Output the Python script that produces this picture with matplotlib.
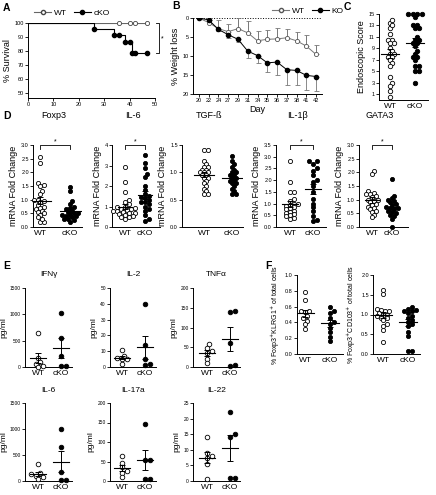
import numpy as np
import matplotlib.pyplot as plt
from matplotlib.lines import Line2D
from matplotlib.ticker import FormatStrFormatter

plt.rcParams['font.family'] = ['Liberation Sans', 'DejaVu Sans']

# ---- A: survival ----
surv_wt_marks = [36, 40, 42, 47]
surv_ko_t = [0, 26, 34, 38, 41, 47]
surv_ko_s = [100, 95.5, 91.3, 86.5, 78.3, 78.3]
surv_ko_mark_t = [26, 34, 36, 38, 40, 41, 42, 47]
surv_ko_mark_s = [95.5, 91.3, 91.3, 86.5, 86.5, 78.3, 78.3, 78.3]

# ---- B: weight loss ----
days = ['20', '22', '24', '27', '29', '31', '34', '35', '36', '37', '38', '41', '42']
wl_wt = [0, 1.2, 2.8, 3.6, 2.8, 3.9, 6.0, 5.6, 5.5, 5.2, 6.0, 7.4, 9.6]
wl_wt_err = [0, 0, 2.3, 1.9, 2.8, 3.0, 2.6, 2.4, 2.8, 2.2, 2.3, 3.0, 2.5]
wl_ko = [0, 0.5, 3.0, 4.4, 5.6, 8.7, 9.9, 11.8, 11.6, 13.6, 13.8, 15.1, 15.4]
wl_ko_err = [0, 0, 0.5, 0.9, 0.6, 1.8, 2.0, 2.5, 3.3, 4.0, 3.8, 3.8, 3.8]

# ---- C: endoscopic score ----
endo_wt = [13.5, 14, 12.5, 13, 11.5, 10.5, 10.5, 10, 10, 9, 8.5, 8, 8, 7.5, 7.5, 7,
           6.5, 6, 4, 3, 2.5, 1.5, 0.5]
endo_ko = [15, 15, 15, 15, 14.5, 13, 13, 12.5, 12.5, 11, 10.5, 10.5, 10, 10, 9.5,
           8.5, 8, 7.5, 7.5, 7, 6, 6, 5, 5, 3]

# ---- D: mRNA fold change ----
foxp3_wt = [2.55, 2.35, 1.6, 1.55, 1.5, 1.3, 1.2, 1.0, 1.0, 0.95, 0.9, 0.8, 0.75, 0.7,
            0.65, 0.6, 0.55, 0.5, 0.45, 0.35, 0.2, 0.2, 0.3]
foxp3_ko = [1.45, 1.3, 0.95, 0.85, 0.75, 0.7, 0.65, 0.6, 0.55, 0.5, 0.5, 0.45, 0.45,
            0.4, 0.4, 0.35, 0.3, 0.3, 0.25, 0.2]
il6m_wt = [2.95, 2.2, 1.7, 1.3, 1.2, 1.1, 1.0, 1.0, 0.95, 0.9, 0.9, 0.85, 0.8, 0.8,
           0.75, 0.7, 0.7, 0.65, 0.6, 0.55, 0.5, 0.5, 0.4]
il6m_ko = [3.5, 3.1, 2.9, 2.6, 2.45, 2.0, 1.8, 1.6, 1.5, 1.45, 1.4, 1.3, 1.2, 1.2,
           1.1, 1.0, 0.9, 0.8, 0.6, 0.4, 0.3]
tgf_wt = [1.4, 1.4, 1.2, 1.15, 1.1, 1.1, 1.05, 1.05, 1.0, 1.0, 1.0, 0.95, 0.95, 0.9,
          0.9, 0.85, 0.8, 0.75, 0.7, 0.65, 0.6, 0.6]
tgf_ko = [1.3, 1.2, 1.15, 1.1, 1.05, 1.0, 1.0, 0.95, 0.95, 0.9, 0.9, 0.85, 0.85, 0.8,
          0.8, 0.75, 0.7, 0.65, 0.6, 0.6]
il1b_wt = [2.8, 1.9, 1.5, 1.5, 1.2, 1.1, 1.0, 1.0, 0.95, 0.9, 0.85, 0.8, 0.75, 0.7,
           0.65, 0.6, 0.55, 0.5, 0.45, 0.4, 0.35]
il1b_ko = [2.8, 2.8, 2.7, 2.5, 2.4, 2.2, 2.0, 1.9, 1.75, 1.5, 1.2, 1.0, 0.85, 0.7,
           0.45, 0.3, 0.25]
gata3_wt = [2.05, 1.95, 1.3, 1.25, 1.2, 1.2, 1.15, 1.1, 1.0, 1.0, 0.95, 0.9, 0.85,
            0.8, 0.75, 0.7, 0.65, 0.6, 0.55, 0.45, 0.35]
gata3_ko = [1.75, 1.15, 1.05, 1.0, 0.95, 0.9, 0.85, 0.8, 0.75, 0.7, 0.7, 0.65, 0.6,
            0.55, 0.5, 0.45, 0.4, 0.3, 0.0]

# ---- E: cytokines (pg/ml) ----
ifng_wt = [650, 180, 100, 60, 20, 0]
ifng_ko = [1030, 550, 200, 15, 15]
il2_wt = [11, 7, 6, 5, 5, 2]
il2_ko = [40, 14, 5, 2, 1]
tnfa_wt = [57, 48, 40, 35, 20, 10]
tnfa_ko = [142, 140, 61, 5, 3]
il6p_wt = [330, 150, 130, 100, 80, 30]
il6p_ko = [1000, 660, 170, 10, 10]
il17_wt = [63, 45, 35, 25, 20, 10]
il17_ko = [145, 55, 55, 5, 5]
il22_wt = [14, 9, 8, 7.5, 5.5, 0.5]
il22_ko = [22, 15, 14, 1, 1]

# ---- F: flow ----
klrg1_wt = [0.78, 0.68, 0.55, 0.55, 0.53, 0.48, 0.45, 0.42, 0.38, 0.32]
klrg1_ko = [0.59, 0.55, 0.52, 0.45, 0.40, 0.38, 0.33, 0.28, 0.22, 0.17]
cd103_wt = [1.62, 1.52, 1.15, 1.12, 1.1, 1.08, 1.05, 1.0, 1.0, 0.95, 0.92, 0.9, 0.85,
            0.75, 0.7, 0.6, 0.3]
cd103_ko = [1.2, 1.15, 1.12, 1.1, 1.08, 1.05, 0.95, 0.9, 0.85, 0.8, 0.75, 0.7, 0.55,
            0.45, 0.08, 0.08]

W, H = 436, 495
fig = plt.figure(figsize=(W / 100, H / 100), dpi=100)


def box(l, t, r, b):
    return fig.add_axes([l / W, 1 - b / H, (r - l) / W, (b - t) / H])


def style(ax, ts=4):
    for s in ['top', 'right']:
        ax.spines[s].set_visible(False)
    for s in ['left', 'bottom']:
        ax.spines[s].set_linewidth(0.7)
    ax.tick_params(labelsize=ts, width=0.6, length=2, pad=1)


def swarm(vals, sy, d, gap):
    placed = []
    offs = np.zeros(len(vals))
    cands = [0.0]
    for k in range(1, 40):
        cands += [k * d * 0.5, -k * d * 0.5]
    for i in np.argsort(vals):
        yp = vals[i] * sy
        for c in cands:
            if all((c - px) ** 2 + (yp - py) ** 2 >= (gap * d) ** 2 for px, py in placed):
                break
        placed.append((c, yp))
        offs[i] = c
    return offs


def dotplot(rect, xwt, xko, ylim, wt, ko, ms=3.0, ts=4, xs=6, gap=0.8):
    l, t, r, b = rect
    ax = box(l, t, r, b)
    style(ax, ts)
    unit = xko - xwt
    ax.set_xlim((l - xwt) / unit, (r - xwt) / unit)
    ax.set_ylim(*ylim)
    sy = (b - t) / (ylim[1] - ylim[0])
    d = ms * 100 / 72
    for i, (vals, filled) in enumerate([(wt, False), (ko, True)]):
        vals = np.asarray(vals, float)
        x = i + swarm(vals, sy, d, gap) / unit
        ax.plot(x, vals, 'o', ms=ms, mfc='k' if filled else 'white', mec='k',
                mew=0.6, ls='none', clip_on=False, zorder=3)
        m = vals.mean()
        se = vals.std(ddof=1) / np.sqrt(len(vals))
        ax.plot([i - 0.35, i + 0.35], [m, m], color='k', lw=0.8, zorder=4)
        ax.errorbar(i, m, yerr=se, color='k', lw=0.7, capsize=2.5, capthick=0.7, zorder=4)
    ax.set_xticks([0, 1])
    ax.set_xticklabels(['WT', 'cKO'], fontsize=xs)
    ax.tick_params(axis='x', length=0, pad=2)
    return ax


def bracket(ax, y, h):
    ax.plot([0, 0, 1, 1], [y - h, y, y, y - h], color='k', lw=0.6, clip_on=False)
    ax.text(0.5, y, '*', ha='center', va='bottom', fontsize=5)


def letter(x, y, s):
    fig.text(x / W, 1 - y / H, s, fontsize=7.5, fontweight='bold', va='center')


# ---------- A ----------
ax = box(28, 23, 155, 98)
style(ax)
ax.set_xlim(0, 50)
ax.set_ylim(46.5, 100)
ax.set_xticks(range(0, 51, 10))
ax.set_yticks(range(50, 101, 10))
ax.step([0, 47], [100, 100], where='post', color='#666', lw=0.8)
ax.plot(surv_wt_marks, [100] * len(surv_wt_marks), 'o', ms=3, mfc='white', mec='#444', mew=0.6, clip_on=False)
ax.step(surv_ko_t, surv_ko_s, where='post', color='k', lw=0.8)
ax.plot(surv_ko_mark_t, surv_ko_mark_s, 'o', ms=3, color='k', clip_on=False)
ax.set_ylabel('% Survival', fontsize=6.5, labelpad=2)
ax.plot([50.5, 51.5, 51.5, 50.5], [100, 100, 78.3, 78.3], color='k', lw=0.6, clip_on=False)
ax.text(52.3, 89, '*', fontsize=5, va='center')
h1 = Line2D([], [], color='#666', lw=0.8, marker='o', ms=3, mfc='white', mec='#444')
h2 = Line2D([], [], color='k', lw=0.8, marker='o', ms=3)
fig.legend([h1, h2], ['WT', 'cKO'], loc='center left', bbox_to_anchor=(30 / W, 1 - 13 / H),
           ncol=2, frameon=False, fontsize=6, handlelength=2, columnspacing=0.8,
           handletextpad=0.4, borderpad=0)

# ---------- B ----------
ax = box(193, 18, 322, 94)
style(ax)
x = np.arange(len(days))
ax.set_xlim(-0.6, 12.6)
ax.set_ylim(20, 0)
ax.set_yticks([0, 5, 10, 15, 20])
ax.set_xticks(x)
ax.set_xticklabels(days)
ax.axhline(0, color='k', ls=':', lw=0.7)
ax.errorbar(x, wl_wt, yerr=[wl_wt_err, np.zeros(len(x))], color='#777', lw=0.7,
            capsize=1.8, capthick=0.6, marker='o', ms=3, mfc='white', mec='#555', mew=0.6)
ax.errorbar(x, wl_ko, yerr=[np.zeros(len(x)), wl_ko_err], color='k', lw=0.7,
            ecolor='#777', elinewidth=0.6, capsize=1.8, capthick=0.6, marker='o', ms=3)
ax.set_xlabel('Day', fontsize=6.5, labelpad=1)
ax.set_ylabel('% Weight loss', fontsize=6.5, labelpad=2)
h1 = Line2D([], [], color='#777', lw=0.8, marker='o', ms=3, mfc='white', mec='#555')
h2 = Line2D([], [], color='k', lw=0.8, marker='o', ms=3)
fig.legend([h1, h2], ['WT', 'KO'], loc='center left', bbox_to_anchor=(268 / W, 1 - 11 / H),
           ncol=2, frameon=False, fontsize=6, handlelength=2, columnspacing=0.8,
           handletextpad=0.4, borderpad=0)

# ---------- C ----------
ax = dotplot((379, 14, 428, 100), 390, 415, (0, 15), endo_wt, endo_ko, ms=3.2, gap=0.8)
ax.set_yticks(range(1, 16, 2))
ax.set_ylabel('Endoscopic Score', fontsize=6.5, labelpad=2)

# ---------- D ----------
dpanels = [
    ('Foxp3', (33, 145, 82, 227), 40, 70, (0, 3.0), 0.5, foxp3_wt, foxp3_ko, True, '%.1f'),
    ('IL-6', (112, 145, 160, 227), 125, 145, (0, 4), 1, il6m_wt, il6m_ko, True, '%d'),
    ('TGF-ß', (182, 145, 243, 227), 204, 232, (0, 1.5), 0.5, tgf_wt, tgf_ko, False, '%.1f'),
    ('IL-1β', (276, 145, 326, 227), 290, 313, (0, 3.5), 0.5, il1b_wt, il1b_ko, True, '%.1f'),
    ('GATA3', (359, 145, 408, 227), 372, 392, (0, 3.0), 0.5, gata3_wt, gata3_ko, True, '%.1f'),
]
for name, rect, xw, xk, yl, step, wt, ko, sig, fmt in dpanels:
    ax = dotplot(rect, xw, xk, yl, wt, ko, ms=3.0, gap=0.76)
    ax.set_yticks(np.arange(0, yl[1] + 1e-9, step))
    ax.yaxis.set_major_formatter(FormatStrFormatter(fmt))
    ax.set_ylabel('mRNA Fold Change', fontsize=6.5, labelpad=2)
    l, t, r, b = rect
    fig.text((l + r) / 2 / W - 0.008, 1 - 116 / H, name, ha='center', va='center', fontsize=6.5)
    if sig:
        bracket(ax, yl[1], (yl[1] - yl[0]) * 0.05)

# ---------- E ----------
epanels = [
    ('IFNγ', (25, 288, 72, 367), 38, 61, (0, 1500), 500, ifng_wt, ifng_ko, 275),
    ('IL-2', (110, 288, 156, 367), 122, 145, (0, 50), 10, il2_wt, il2_ko, 275),
    ('TNFα', (193, 288, 240, 367), 207, 230, (0, 200), 50, tnfa_wt, tnfa_ko, 275),
    ('IL-6', (25, 403, 72, 481), 38, 61, (0, 1500), 500, il6p_wt, il6p_ko, 390),
    ('IL-17a', (110, 403, 156, 481), 122, 145, (0, 200), 50, il17_wt, il17_ko, 390),
    ('IL-22', (193, 403, 240, 481), 207, 230, (0, 25), 5, il22_wt, il22_ko, 390),
]
for name, rect, xw, xk, yl, step, wt, ko, ty in epanels:
    ax = dotplot(rect, xw, xk, yl, wt, ko, ms=3.3, ts=3.5, gap=0.85)
    ax.set_yticks(np.arange(0, yl[1] + 1e-9, step))
    ax.set_ylabel('pg/ml', fontsize=6, labelpad=2)
    l, t, r, b = rect
    fig.text((l + r) / 2 / W, 1 - ty / H, name, ha='center', va='center', fontsize=6)

# ---------- F ----------
ax = dotplot((297, 275, 343, 354), 305, 330, (0, 1.0), klrg1_wt, klrg1_ko, ms=3.0, gap=0.8)
ax.set_yticks(np.arange(0, 1.01, 0.2))
ax.yaxis.set_major_formatter(FormatStrFormatter('%.1f'))
ax.set_ylabel('% Foxp3$^{+}$KLRG1$^{+}$ of total cells', fontsize=5, labelpad=2)
ax = dotplot((373, 275, 420, 354), 383, 408, (0, 2.0), cd103_wt, cd103_ko, ms=3.0, gap=0.8)
ax.set_yticks(np.arange(0, 2.01, 0.5))
ax.yaxis.set_major_formatter(FormatStrFormatter('%.1f'))
ax.set_ylabel('% Foxp3$^{+}$CD103$^{+}$ of total cells', fontsize=5, labelpad=2)

letter(3, 8, 'A')
letter(172, 6, 'B')
letter(344, 7, 'C')
letter(3, 116, 'D')
letter(3, 266, 'E')
letter(265, 266, 'F')

fig.savefig('out.png', dpi=100)
